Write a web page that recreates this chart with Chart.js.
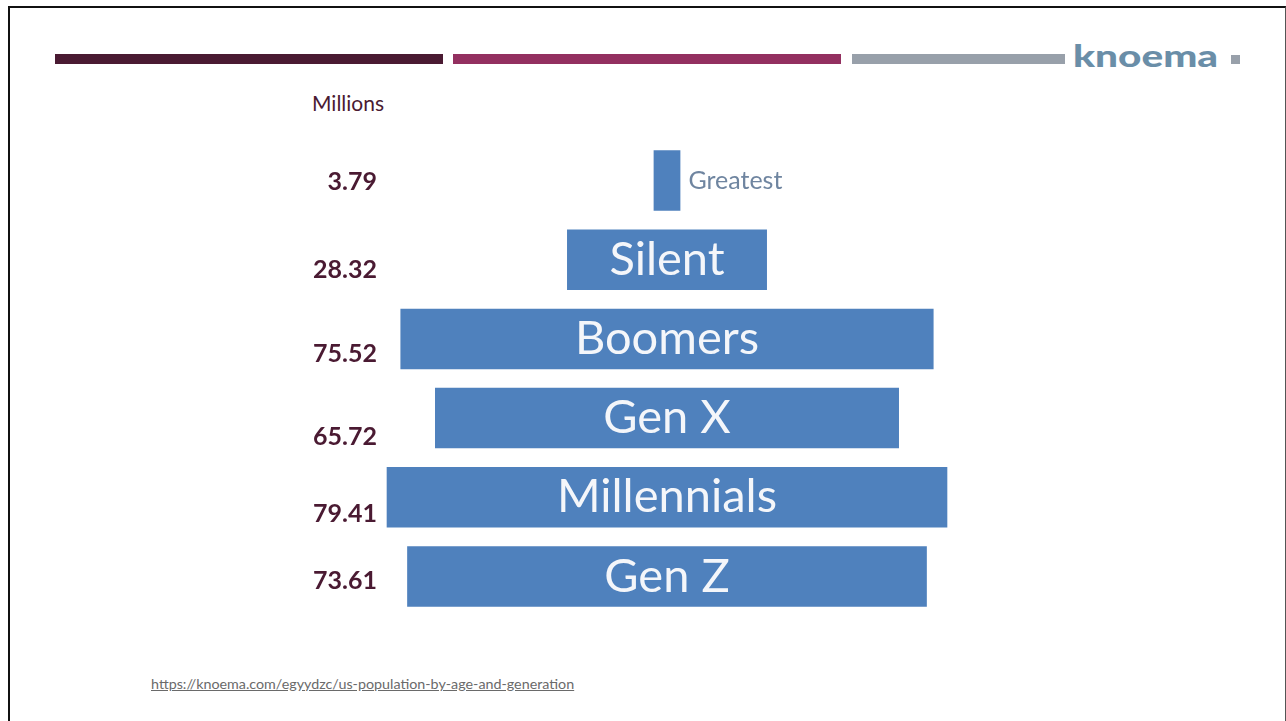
<!DOCTYPE html>
<html>
<head>
<meta charset="utf-8">
<script src="https://cdn.jsdelivr.net/npm/chart.js@4/dist/chart.umd.min.js"></script>
<style>
  html, body { margin: 0; padding: 0; background: #fff; }
  body { width: 1286px; height: 721px; position: relative; overflow: hidden; font-family: Lato, "Open Sans", sans-serif; }
  #frame { position: absolute; left: 8px; top: 6px; width: 1275px; height: 730px; border-top: 2px solid #111; border-left: 2px solid #111; border-right: 1px solid #555; }
  .stripe { position: absolute; top: 54px; height: 10px; }
  #logo { position: absolute; left: 1073px; top: 40px; font-size: 30px; line-height: 30px; font-weight: 900; color: #6a8ea8; transform: scaleX(1.35); transform-origin: left top; }
  #logoDot { position: absolute; left: 1231px; top: 55px; width: 9px; height: 9px; background: #98a0aa; }
  #unit { position: absolute; left: 312px; top: 90px; font-size: 21px; color: #4a1a32; }
  #source { position: absolute; left: 151px; top: 675px; font-size: 14.3px; color: #6a6a6a; text-decoration: underline; }
  #wrap { position: absolute; left: 0; top: 0; width: 1286px; height: 721px; }
</style>
</head>
<body>
<div id="frame"></div>
<div class="stripe" style="left:55px;width:388px;background:#4a1a32"></div>
<div class="stripe" style="left:453px;width:388px;background:#933060"></div>
<div class="stripe" style="left:852px;width:213px;background:#98a0aa"></div>
<div id="logo">knoema</div>
<div id="logoDot"></div>
<div id="unit">Millions</div>
<div id="source">https://knoema.com/egyydzc/us-population-by-age-and-generation</div>
<div id="wrap"><canvas id="myChart"></canvas></div>
<script>
const generations = ['Greatest', 'Silent', 'Boomers', 'Gen X', 'Millennials', 'Gen Z']
const population = [3.79, 28.32, 75.52, 65.72, 79.41, 73.61]
const valueLabels = ['3.79', '28.32', '75.52', '65.72', '79.41', '73.61']

// the value labels sit a little below each bar in the original slide
const labelDrop = [1.5, 10, 15, 19, 16.5, 4.5]

const barColor = '#4f81bd'

// pyramid: each bar runs from -v/2 to +v/2
const spans = population.map(v => [-v / 2, v / 2])

const labelsPlugin = {
    id: 'pyramidLabels',
    afterDatasetsDraw(chart) {
        const ctx = chart.ctx
        const meta = chart.getDatasetMeta(0)
        ctx.save()
        meta.data.forEach((bar, i) => {
            const w = Math.abs(bar.x - bar.base)
            // value on the left
            ctx.font = 'bold 25px Lato'
            ctx.fillStyle = '#4a1a32'
            ctx.textAlign = 'right'
            ctx.textBaseline = 'middle'
            ctx.fillText(valueLabels[i], 377, bar.y + labelDrop[i])

            // generation name, inside the bar unless it is too narrow
            ctx.textAlign = 'center'
            ctx.font = '47px Lato'
            if (ctx.measureText(generations[i]).width < w) {
                ctx.fillStyle = '#f4f6fa'
                ctx.fillText(generations[i], (bar.x + bar.base) / 2, bar.y)
            } else {
                ctx.font = '25px Lato'
                ctx.fillStyle = '#6f85a0'
                ctx.textAlign = 'left'
                ctx.fillText(generations[i], Math.max(bar.x, bar.base) + 8, bar.y)
            }
        })
        ctx.restore()
    }
}

new Chart(document.querySelector('#myChart'), {
    type: 'bar',
    data: {
        labels: generations,
        datasets: [{
            data: spans,
            backgroundColor: barColor,
            borderWidth: 0,
            borderSkipped: false,
            categoryPercentage: 1,
            barPercentage: 0.765
        }]
    },
    options: {
        indexAxis: 'y',
        responsive: true,
        maintainAspectRatio: false,
        animation: false,
        layout: { padding: { left: 314, right: 266, top: 141, bottom: 105 } },
        plugins: { legend: { display: false }, tooltip: { enabled: false } },
        scales: {
            x: { display: false, min: -50, max: 50 },
            y: { display: false }
        }
    },
    plugins: [labelsPlugin]
})
</script>
</body>
</html>
